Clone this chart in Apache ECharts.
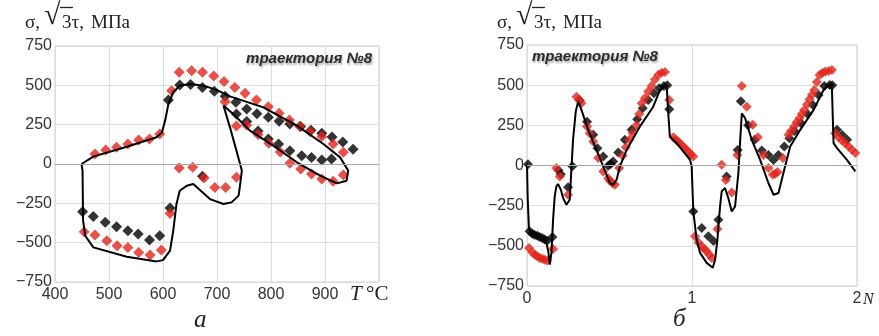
<!DOCTYPE html>
<html><head><meta charset="utf-8">
<script src="https://cdn.jsdelivr.net/npm/echarts@6/dist/echarts.min.js"></script>
<style>html,body{margin:0;padding:0;background:#fff}#c{width:879px;height:336px}</style>
</head><body><div id="c"></div>
<script>
// ---- Panel a: stress vs temperature ----
const aYTicks = [-750, -500, -250, 0, 250, 500, 750];
const aXTicks = [400, 500, 600, 700, 800, 900];
const aCurve = [[449,0],[471,47],[533,110],[588,170],[598,201],[604,276],[610,382],[619,456],[631,498],[650,509],[675,498],[699,471],[724,430],
  [786,360],[848,244],[897,127],[928,42],[943,-42],[940,-106],[922,-123],[891,-74],[848,11],[804,117],[761,212],[730,318],[712,371],
  [724,233],[736,85],[746,-42],[743,-127],[740,-201],[727,-244],[712,-254],[687,-223],[656,-127],[644,-138],[631,-170],[625,-254],
  [619,-424],[613,-551],[600,-611],[588,-619],[533,-589],[471,-530],[456,-456],[452,-360],[451,-42],[449,0]];
const aBlack = [[451,-303],[471,-333],[493,-371],[514,-399],[535,-424],[554,-445],[575,-483],[594,-456],[613,-280],
  [610,407],[631,502],[651,505],[673,487],[695,462],[715,430],
  [735,392],[755,350],[774,320],[795,297],[815,271],[835,255],[855,238],[874,215],[894,195],[913,172],[933,140],[952,93],
  [736,318],[755,270],[776,210],[795,159],[814,127],[835,85],[857,53],[875,42],[894,25],[912,32],[673,-78]];
const aRed = [[474,64],[494,89],[514,106],[535,127],[555,153],[575,159],[594,191],[616,466],
  [630,583],[653,593],[673,583],[694,560],[713,525],[733,487],[752,449],[773,407],[795,364],[815,322],[834,280],[853,240],[872,207],[894,174],[915,127],[934,74],
  [715,395],[736,242],[755,247],[776,188],[796,132],[817,77],[835,5],[855,-32],[875,-64],[894,-95],[915,-110],[934,-70],
  [630,-25],[655,-21],[676,-89],[696,-149],[716,-149],[736,-85],
  [454,-431],[474,-452],[496,-488],[515,-520],[535,-530],[555,-562],[576,-579],[597,-547],[613,-314]];

// ---- Panel б: stress vs number of cycles ----
const bXTicks = [0, 1, 2];
const bCurve = [[0,10],[0.004,-200],[0.012,-399],[0.027,-420],[0.077,-451],[0.118,-482],[0.13,-540],[0.138,-617],[0.148,-544],[0.158,-337],[0.168,-192],
  [0.178,-130],[0.188,-115],[0.205,-150],[0.219,-203],[0.239,-244],[0.259,-213],[0.270,-6],[0.279,160],[0.296,340],[0.310,397],[0.330,346],
  [0.371,222],[0.421,97],[0.462,-6],[0.502,-109],[0.522,-120],[0.543,-89],[0.563,-6],[0.604,97],[0.684,242],[0.765,366],[0.806,470],
  [0.835,501],[0.848,470],[0.856,325],[0.866,180],[0.907,139],[0.988,35],[0.998,-6],[1.008,-286],[1.028,-461],[1.049,-544],[1.089,-606],
  [1.126,-637],[1.140,-586],[1.154,-461],[1.170,-255],[1.180,-161],[1.200,-140],[1.220,-202],[1.241,-286],[1.261,-255],[1.281,-47],
  [1.291,139],[1.302,325],[1.322,294],[1.362,160],[1.413,35],[1.463,-109],[1.494,-182],[1.524,-171],[1.554,-47],[1.595,118],[1.656,222],
  [1.737,346],[1.797,470],[1.828,501],[1.848,481],[1.858,139],[1.879,108],[1.939,35],[1.990,-37]];
const bBlack = [[0.006,8],[0.016,-410],[0.032,-425],[0.047,-432],[0.062,-438],[0.077,-445],[0.092,-452],[0.107,-460],[0.122,-468],[0.154,-445],
  [0.19,-30],[0.205,-55],[0.249,-135],[0.275,-4],
  [0.32,405],[0.364,273],[0.401,191],[0.427,108],[0.462,56],[0.492,-2],[0.507,10],[0.522,25],[0.553,81],[0.593,160],[0.634,222],[0.668,288],
  [0.701,356],[0.735,408],[0.769,449],[0.801,481],[0.83,495],[0.85,500],[0.862,350],
  [1.008,-286],[1.059,-389],[1.099,-441],[1.13,-470],[1.16,-337],[1.21,-68],[1.277,97],[1.296,400],[1.34,250],[1.38,160],
  [1.423,93],[1.463,66],[1.494,35],[1.524,66],[1.559,118],[1.59,170],[1.62,215],[1.66,265],[1.70,320],[1.733,377],[1.767,439],[1.802,495],
  [1.834,501],[1.85,500],[1.879,222],[1.91,190],[1.94,160]];
const bRed = [[0.012,-513],[0.032,-540],[0.047,-555],[0.062,-565],[0.077,-575],[0.092,-580],[0.107,-586],[0.122,-592],[0.158,-519],
  [0.178,-16],[0.199,-68],[0.249,-182],
  [0.300,428],[0.315,410],[0.330,387],[0.364,242],[0.38,200],[0.401,150],[0.431,46],[0.462,-37],[0.492,-80],[0.502,-95],[0.518,-110],[0.533,-120],
  [0.559,-16],[0.58,60],[0.599,114],[0.62,160],[0.64,200],[0.664,250],[0.68,320],[0.695,387],[0.715,420],[0.735,460],[0.755,495],[0.775,535],
  [0.796,565],[0.816,578],[0.836,582],[0.862,408],[0.887,176],[0.902,160],[0.917,149],[0.932,133],[0.947,118],[0.962,103],[0.978,87],[0.993,70],[1.008,56],
  [1.018,-441],[1.039,-480],[1.059,-503],[1.074,-520],[1.089,-534],[1.105,-555],[1.120,-575],[1.154,-395],[1.180,4],[1.205,-90],[1.241,-168],
  [1.275,66],[1.302,495],[1.332,366],[1.368,253],[1.399,176],[1.433,66],[1.463,-16],[1.49,-58],[1.505,-52],[1.518,-40],[1.551,46],[1.585,191],
  [1.60,215],[1.619,242],[1.635,270],[1.652,294],[1.665,320],[1.680,346],[1.697,380],[1.712,412],[1.727,440],[1.741,470],[1.757,520],[1.773,563],
  [1.79,575],[1.808,585],[1.828,588],[1.848,594],[1.868,201],[1.889,175],[1.909,155],[1.929,139],[1.949,118],[1.969,98],[1.99,78],[2.004,66]];

const RED = '#e2261c';
const serif = 'Liberation Serif';
const sans = 'Liberation Sans';
const yFmt = v => v < 0 ? '\u2212' + Math.abs(v) : String(v);

function yAxis(gi){
  return {type:'value', gridIndex:gi, min:aYTicks[0], max:aYTicks[aYTicks.length-1], interval:250,
    axisLine:{show:false}, axisTick:{show:false},
    axisLabel:{formatter:yFmt, fontFamily:sans, fontSize:16, color:'#333', margin:3},
    splitLine:{lineStyle:{color:'#dddddd', width:1}}};
}
const zeroLine = gi => ({type:'line', xAxisIndex:gi, yAxisIndex:gi, data:[], silent:true, z:1,
  markLine:{silent:true, symbol:'none', label:{show:false}, lineStyle:{color:'#a8a8a8', type:'solid', width:1},
    data:[{yAxis:0}], animation:false}});

const option = {
  animation:false,
  grid:[
    {left:55, top:46, width:324, height:236, show:true, borderColor:'#cfcfcf', borderWidth:1},
    {left:527, top:45, width:330, height:241, show:true, borderColor:'#cfcfcf', borderWidth:1}
  ],
  xAxis:[
    {type:'value', gridIndex:0, min:400, max:1000, interval:100, axisLine:{show:false}, axisTick:{show:false},
     axisLabel:{formatter:v => aXTicks.includes(v) ? String(v) : '', fontFamily:sans, fontSize:16, color:'#333', margin:5},
     splitLine:{lineStyle:{color:'#dddddd'}}},
    {type:'value', gridIndex:1, min:bXTicks[0], max:bXTicks[2], interval:1, axisLine:{show:false}, axisTick:{show:false},
     axisLabel:{formatter:v => String(v), fontFamily:sans, fontSize:16, color:'#333', margin:5},
     splitLine:{lineStyle:{color:'#dddddd'}}}
  ],
  yAxis:[yAxis(0), yAxis(1)],
  series:[
    zeroLine(0), zeroLine(1),
    {type:'scatter', xAxisIndex:0, yAxisIndex:0, data:aBlack, symbol:'diamond', symbolSize:11, itemStyle:{color:'#000'}, z:2},
    {type:'scatter', xAxisIndex:0, yAxisIndex:0, data:aRed, symbol:'diamond', symbolSize:11, itemStyle:{color:RED}, z:3},
    {type:'line', xAxisIndex:0, yAxisIndex:0, data:aCurve, showSymbol:false, symbol:'none', lineStyle:{color:'#000', width:2}, z:4},
    {type:'scatter', xAxisIndex:1, yAxisIndex:1, data:bBlack, symbol:'diamond', symbolSize:10, itemStyle:{color:'#000'}, z:2},
    {type:'scatter', xAxisIndex:1, yAxisIndex:1, data:bRed, symbol:'diamond', symbolSize:10, itemStyle:{color:RED}, z:3},
    {type:'line', xAxisIndex:1, yAxisIndex:1, data:bCurve, showSymbol:false, symbol:'none', lineStyle:{color:'#000', width:2}, z:4}
  ],
  graphic:[]
};

const T = (x, y, text, size, extra) => ({type:'text', left:x, top:y, z:10,
  style:Object.assign({text:text, fontFamily:serif, fontSize:size, fill:'#222'}, extra || {})});

function title(x0){
  return [
    T(x0, 14, 'σ,', 19),
    T(x0+19, 1, '√', 30),
    {type:'line', z:10, shape:{x1:x0+35, y1:7.5, x2:x0+48, y2:7.5}, style:{stroke:'#222', lineWidth:1.3}},
    T(x0+37, 14, '3τ,', 19),
    T(x0+66, 14, 'МПа', 19)
  ];
}
const trajStyle = {fontFamily:sans, fontStyle:'italic', fontWeight:'bold', fontSize:15, fill:'#2b2b2b',
  textShadowColor:'rgba(0,0,0,0.35)', textShadowBlur:2, textShadowOffsetX:1, textShadowOffsetY:2};
option.graphic = [].concat(title(25), title(497), [
  {type:'text', right:879-372, top:51, z:10, style:Object.assign({text:'траектория №8'}, trajStyle)},
  {type:'text', left:532, top:49, z:10, style:Object.assign({text:'траектория №8'}, trajStyle)},
  T(350, 284, 'T', 21, {fontStyle:'italic'}),
  T(366, 284, '°C', 21),
  T(863, 292, 'N', 16, {fontStyle:'italic'}),
  T(194, 308, 'а', 25, {fontStyle:'italic'}),
  T(673, 307, 'б', 25, {fontStyle:'italic'})
]);

const chart = echarts.init(document.getElementById('c'), null, {renderer:'canvas'});
chart.setOption(option);
</script></body></html>
